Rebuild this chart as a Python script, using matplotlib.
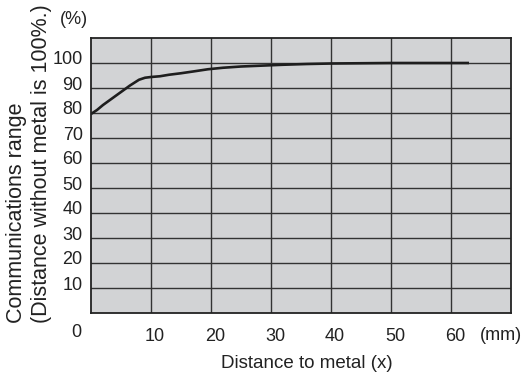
import matplotlib
matplotlib.use('Agg')
import matplotlib.pyplot as plt
from matplotlib.transforms import ScaledTranslation

plt.rcParams['font.family'] = ['Liberation Sans', 'DejaVu Sans']

# curve
dist = [0, 1, 2, 3.5, 5, 6.5, 8, 9, 10, 11.5, 13, 15, 17, 19.5, 22, 25, 28, 32, 36, 40, 45, 50, 55, 63]
rng = [79.6, 81.2, 83.2, 85.8, 88.4, 91.0, 93.3, 94.1, 94.4, 94.7, 95.3, 95.9, 96.6, 97.5, 98.1, 98.6, 98.9, 99.3, 99.6, 99.8, 99.9, 100, 100, 100]

xticks = [10, 20, 30, 40, 50, 60]
yticks = [10, 20, 30, 40, 50, 60, 70, 80, 90, 100]

fig = plt.figure(figsize=(5.23, 3.77), dpi=100)
ax = fig.add_axes([91/523, 1 - 313/377, 420/523, 275/377])
ax.set_facecolor('#d2d3d5')
ax.set_xlim(0, 70)
ax.set_ylim(0, 110)

ax.set_xticks(xticks)
ax.set_yticks(yticks)
ax.grid(True, color='#333333', lw=1.0)
ax.set_axisbelow(True)
ax.tick_params(length=0, labelsize=13, colors='#222222')
ax.tick_params(axis='x', pad=11)
ax.tick_params(axis='y', pad=6)
for s in ax.spines.values():
    s.set_color('#222222')
    s.set_linewidth(1.3)

# labels sit a bit above / right of their grid lines
for lab in ax.get_yticklabels():
    lab.set_transform(lab.get_transform() + ScaledTranslation(0, 5/100, fig.dpi_scale_trans))
for lab in ax.get_xticklabels():
    lab.set_transform(lab.get_transform() + ScaledTranslation(4/100, 0, fig.dpi_scale_trans))

ax.plot(dist, rng, color='#1e1e1e', lw=1.9, solid_capstyle='butt')

ax.text(-2.5, -7.8, '0', fontsize=13, ha='center', va='center', color='#222222', clip_on=False)
ax.text(64.8, -9.0, '(mm)', fontsize=13, ha='left', va='center', color='#222222', clip_on=False)
ax.text(-5.2, 117.5, '(%)', fontsize=13, ha='left', va='center', color='#222222', clip_on=False)

ax.text(0.514, -0.182, 'Distance to metal (x)', transform=ax.transAxes, fontsize=13.5,
        ha='center', va='center', color='#222222')
ax.text(-0.148, 0.544, 'Communications range\n(Distance without metal is 100%.)',
        transform=ax.transAxes, rotation=90, fontsize=15.5, ha='center', va='center',
        multialignment='left', linespacing=1.25, color='#222222')

plt.savefig('out.png', dpi=100)
